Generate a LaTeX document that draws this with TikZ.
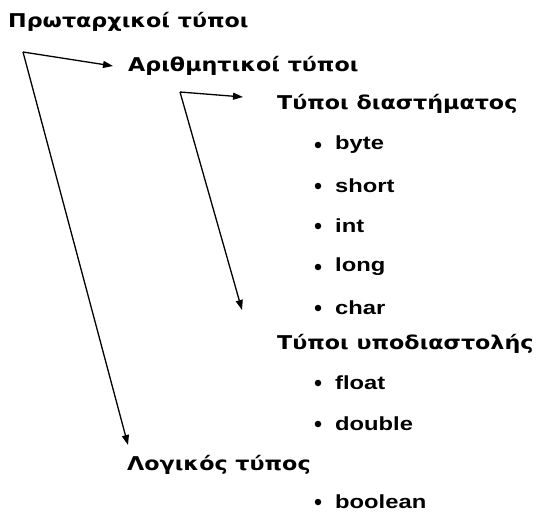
\documentclass[tikz,border=0pt]{standalone}
\usepackage{fontspec}
\setmainfont{DejaVu Sans}
\newfontfamily\grk{DejaVu Sans}[FakeStretch=1.17]
\newfontfamily\lat{Liberation Sans}[FakeStretch=1.25]
\usetikzlibrary{arrows.meta}
\begin{document}
\begin{tikzpicture}[x=1pt,y=-1pt,
  head/.style={anchor=west,inner sep=0pt,font=\grk\fontsize{19}{20}\selectfont\bfseries},
  item/.style={anchor=west,inner sep=0pt,font=\lat\fontsize{19}{20}\selectfont\bfseries},
  dot/.style={circle,fill=black,inner sep=0pt,minimum size=6.5pt},
  arr/.style={line width=1.3pt,-{Triangle[length=10pt,width=7pt]}}]
\useasboundingbox (0,0) rectangle (538,514);
\node[head] (p0) at (8,22) {Πρωταρχικοί τύποι};
\node[head] (p1) at (128,66) {Αριθμητικοί τύποι};
\node[head] (p2) at (277,104) {Τύποι διαστήματος};
\node[head] (p3) at (277,344) {Τύποι υποδιαστολής};
\node[head] (p4) at (127,465) {Λογικός τύπος};
\foreach \n/\t/\yy in {b1/byte/145,b2/short/186,b3/int/226,b4/long/267,b5/char/308,b6/float/383,b7/double/424,b8/boolean/502}{
  \node[dot] (d\n) at (318,\yy) {};
  \node[item] (\n) at (335,\yy) {\t};
}
\coordinate (c1) at (23,52);
\coordinate (c2) at (180,92);
\coordinate (t1) at (113,66);
\coordinate (t2) at (243,97);
\coordinate (t3) at (242,310);
\coordinate (t4) at (128,445);
\draw[arr] (c1) -- (t1);
\draw[arr] (c1) -- (t4);
\draw[arr] (c2) -- (t2);
\draw[arr] (c2) -- (t3);
\end{tikzpicture}
\end{document}
